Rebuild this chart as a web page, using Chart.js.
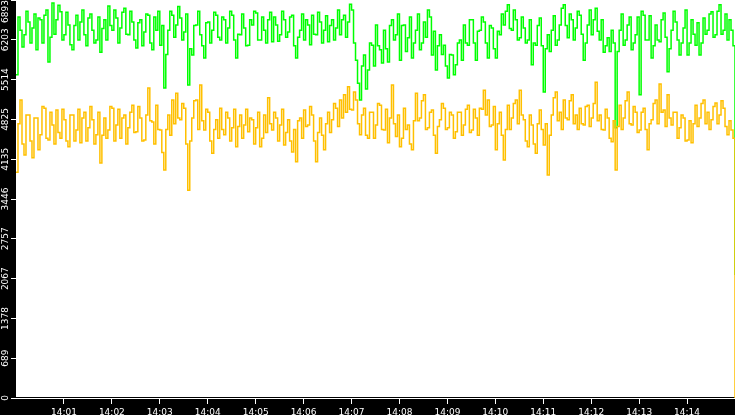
<!DOCTYPE html>
<html>
<head>
<meta charset="utf-8">
<script src="https://cdn.jsdelivr.net/npm/chart.js@4.4.1/dist/chart.umd.min.js"></script>
<style>
  html, body { margin: 0; padding: 0; background: #000; }
  #wrap { width: 735px; height: 415px; }
</style>
</head>
<body>
<div id="wrap"><canvas id="chart" width="735" height="415"></canvas></div>
<script>
// --- data ---
// one sample every 2.5 s, starting at 14:00:00
const sampleSeconds = 2.5;

const greenValues = [
  5600, 6600, 6370, 6080, 6290, 6700, 6510, 6150, 6410, 6650,
  6030, 6580, 6550, 6150, 6630, 6720, 5820, 6250, 6840, 6300,
  6550, 6800, 6690, 6200, 6290, 6680, 6460, 6120, 6030, 6450,
  6630, 6200, 6510, 6720, 6290, 6100, 6580, 6650, 6370, 6150,
  6200, 6600, 5990, 6400, 6550, 6200, 6790, 6450, 6370, 6720,
  6580, 6150, 6410, 6680, 6750, 6300, 6290, 6700, 6510, 6200,
  6060, 6500, 6550, 6100, 6340, 6650, 6630, 6150, 6030, 6600,
  6370, 6700, 6110, 6450, 5370, 5950, 6370, 6700, 6630, 6250,
  6460, 6780, 6580, 6200, 6340, 6650, 5420, 6050, 5940, 6450,
  6460, 6700, 6290, 6100, 5890, 6500, 6510, 6150, 6370, 6680,
  6630, 6250, 6200, 6600, 6550, 6150, 6410, 6700, 6630, 6200,
  5890, 6300, 6290, 6650, 6410, 6100, 6110, 6550, 6460, 6700,
  6670, 6200, 6200, 6600, 6370, 6150, 6550, 6680, 6170, 6600,
  6460, 6180, 6290, 6700, 6550, 6250, 6340, 6600, 6630, 6100,
  5890, 6250, 6370, 6650, 6200, 6550, 6460, 6120, 6630, 6300,
  6290, 6680, 6510, 6150, 6370, 6620, 6170, 6450, 6550, 6200,
  6410, 6720, 6290, 6550, 6630, 6250, 6510, 6820, 6720, 6150,
  5850, 5450, 5160, 5750, 5940, 5350, 5680, 6150, 6110, 5750,
  6460, 6100, 6030, 5800, 6370, 6050, 5820, 6450, 6550, 6200,
  6290, 6650, 5850, 6450, 6460, 6000, 6240, 6600, 5890, 6150,
  6370, 6650, 6030, 6150, 6510, 6250, 6720, 6600, 5940, 6350,
  5680, 6100, 6290, 5950, 6110, 5750, 5540, 5950, 5940, 5600,
  5770, 6150, 6200, 5850, 6460, 6150, 6110, 6550, 6550, 6150,
  5850, 6350, 6370, 6600, 6510, 6150, 5890, 6450, 6410, 6050,
  5890, 6350, 6290, 6650, 6460, 6700, 6810, 6400, 6370, 6720,
  6550, 6200, 6240, 6600, 6410, 6150, 6200, 6550, 5770, 6150,
  6110, 6450, 6580, 6100, 5300, 6050, 6290, 6000, 6370, 6620,
  6110, 6200, 6460, 6750, 6810, 6450, 6240, 6650, 6550, 6200,
  6410, 6700, 6630, 6300, 5850, 6150, 6460, 6720, 6290, 6550,
  6750, 6350, 6200, 6550, 5990, 6100, 6240, 6000, 6370, 6150,
  4680, 6000, 6370, 6650, 6110, 6200, 6460, 6600, 6030, 6150,
  6290, 6600, 5250, 6700, 6630, 6200, 6200, 6620, 5890, 6100,
  6460, 6200, 6170, 6550, 6670, 6250, 5650, 6050, 6370, 6700,
  6510, 6200, 5940, 6150, 6410, 6720, 5940, 6150, 6550, 6300,
  6110, 6500, 5940, 6150, 6580, 6300, 6370, 6650, 6690, 6250,
  6290, 6700, 6810, 6300, 6370, 6650, 6200, 6550, 6370, 6100,
  2130
];

const yellowValues = [
  3910, 4750, 5160, 4400, 4210, 4900, 4900, 4450, 4160, 4850,
  4850, 4300, 4560, 5050, 5020, 4500, 4470, 4950, 4730, 4400,
  4990, 4600, 4500, 5000, 4820, 4450, 4350, 4900, 4900, 4450,
  4640, 5000, 4420, 4850, 4950, 4450, 4680, 5050, 4820, 4400,
  4560, 4950, 4070, 4550, 4850, 4500, 4640, 5050, 5020, 4450,
  4730, 5000, 4500, 4850, 4900, 4400, 4680, 4950, 5070, 4600,
  4610, 5050, 4850, 4450, 4470, 4900, 5370, 4800, 4780, 4400,
  5070, 4650, 4640, 4250, 3950, 4650, 4900, 4550, 5160, 4750,
  5280, 4850, 4820, 5100, 5020, 4400, 3600, 4450, 4850, 5150,
  5160, 4650, 5420, 4800, 4640, 5000, 4950, 4450, 4240, 4650,
  4820, 4500, 5020, 4650, 4560, 4950, 4850, 4450, 4680, 5000,
  4350, 4700, 4900, 4500, 4730, 5000, 4610, 4850, 4820, 4400,
  4680, 4950, 4350, 4500, 4900, 4600, 5200, 4750, 4640, 4950,
  4850, 4450, 4730, 5000, 4380, 4600, 4820, 4450, 4260, 4650,
  4090, 4800, 4850, 4500, 4990, 4700, 4730, 5050, 4900, 4450,
  4090, 4600, 4850, 4550, 4300, 4750, 4950, 4600, 4820, 5100,
  5020, 4700, 5160, 4850, 5250, 4950, 5390, 5000, 4990, 5300,
  5160, 4750, 4560, 4900, 5020, 4550, 4500, 4950, 4950, 4500,
  4730, 5100, 5070, 4650, 4640, 5000, 4420, 4850, 5420, 4750,
  4530, 4900, 4350, 4500, 5020, 4650, 4730, 4400, 4300, 4800,
  5280, 4800, 4850, 5150, 5250, 4650, 4680, 4950, 4990, 4550,
  4240, 4700, 4820, 5100, 5020, 4650, 4680, 4950, 4900, 4500,
  4610, 4950, 4950, 4550, 4730, 5000, 5070, 4600, 4640, 5000,
  4850, 4550, 5020, 5000, 5330, 4900, 5160, 4700, 4730, 5050,
  4300, 4750, 4950, 4550, 4120, 4650, 5070, 4650, 4850, 5100,
  5160, 4750, 5330, 4900, 4820, 4450, 4350, 4900, 4730, 4400,
  4240, 4750, 4990, 4650, 4380, 4750, 3860, 4550, 4900, 5200,
  5300, 4800, 4950, 4650, 5160, 4850, 4820, 5150, 5250, 4750,
  4900, 4650, 5020, 4750, 4730, 5050, 5070, 4700, 4850, 5100,
  5470, 4800, 4900, 4650, 4640, 5000, 4850, 4500, 4440, 4800,
  3950, 4700, 5070, 4650, 4850, 5150, 5300, 4750, 4730, 5050,
  4950, 4600, 4640, 4950, 5020, 4650, 4300, 4750, 4820, 5100,
  5160, 4750, 5440, 4950, 4990, 4700, 5250, 4850, 4730, 4950,
  4950, 4500, 4680, 4900, 4850, 4450, 4470, 4800, 4420, 4750,
  5070, 4700, 4850, 5100, 5160, 4750, 4950, 4650, 4820, 5050,
  5110, 4750, 4900, 5150, 5020, 4700, 4560, 4800, 4640, 4500,
  0
];

const timeLabels = ['14:01', '14:02', '14:03', '14:04', '14:05', '14:06', '14:07',
                    '14:08', '14:09', '14:10', '14:11', '14:12', '14:13', '14:14'];
const valueLabels = ['0', '689', '1378', '2067', '2757', '3446', '4135',
                     '4825', '5514', '6203', '6893'];

// --- helpers ---
function toSeconds(label) {
  const parts = label.split(':');
  return (Number(parts[0]) - 14) * 3600 + Number(parts[1]) * 60;
}
function toPoints(values) {
  return values.map((v, i) => ({ x: i * sampleSeconds, y: v }));
}

const FONT = { family: 'DejaVu Sans', size: 9 };

// white plot area on black frame
const plotBackground = {
  id: 'plotBackground',
  beforeDraw(chart) {
    const { ctx, chartArea: a } = chart;
    ctx.save();
    ctx.fillStyle = '#000';
    ctx.fillRect(0, 0, chart.width, chart.height);
    ctx.fillStyle = '#fff';
    ctx.fillRect(a.left, a.top, a.right - a.left, a.bottom - a.top - 1);
    ctx.restore();
  }
};

// rotated y labels, kept inside the canvas like the original
const yLabels = {
  id: 'yLabels',
  afterDraw(chart) {
    const { ctx } = chart;
    const scale = chart.scales.y;
    ctx.save();
    ctx.fillStyle = '#fff';
    ctx.font = FONT.size + 'px ' + FONT.family;
    ctx.textAlign = 'center';
    ctx.textBaseline = 'middle';
    scale.ticks.forEach((t, i) => {
      const text = valueLabels[i];
      const w = ctx.measureText(text).width;
      let y = scale.getPixelForValue(t.value);
      y = Math.max(w / 2, Math.min(chart.height - w / 2, y));
      ctx.save();
      ctx.translate(6, y);
      ctx.rotate(-Math.PI / 2);
      ctx.fillText(text, 0, 0);
      ctx.restore();
    });
    ctx.restore();
  }
};

const ctx = document.getElementById('chart').getContext('2d');
new Chart(ctx, {
  type: 'line',
  data: {
    datasets: [
      { label: 'yellow', data: toPoints(yellowValues), borderColor: '#ffc000', borderWidth: 1.5, pointRadius: 0, stepped: true, fill: false },
      { label: 'green', data: toPoints(greenValues), borderColor: '#00ff00', borderWidth: 1.5, pointRadius: 0, stepped: true, fill: false }
    ]
  },
  options: {
    responsive: false,
    animation: false,
    devicePixelRatio: 1,
    layout: { padding: 0, autoPadding: false },
    plugins: { legend: { display: false }, tooltip: { enabled: false } },
    scales: {
      x: {
        type: 'linear',
        min: 0,
        max: 900,
        afterBuildTicks: s => { s.ticks = timeLabels.map(l => ({ value: toSeconds(l) })); },
        afterFit: s => { s.height = 17; },
        ticks: {
          color: '#fff', font: FONT, padding: 3, autoSkip: false, maxRotation: 0,
          callback: (v, i) => timeLabels[i]
        },
        grid: { drawOnChartArea: false, color: '#fff', tickLength: 6, tickColor: '#fff' },
        border: { display: true, color: '#fff', width: 1 }
      },
      y: {
        type: 'linear',
        min: 0,
        max: Number(valueLabels[valueLabels.length - 1]),
        afterBuildTicks: s => { s.ticks = valueLabels.map(l => ({ value: Number(l) })); },
        afterFit: s => { s.width = 16; },
        ticks: { display: false },
        grid: { drawOnChartArea: false, color: '#fff', tickLength: 5, tickColor: '#fff' },
        border: { display: false }
      }
    }
  },
  plugins: [plotBackground, yLabels]
});
</script>
</body>
</html>
